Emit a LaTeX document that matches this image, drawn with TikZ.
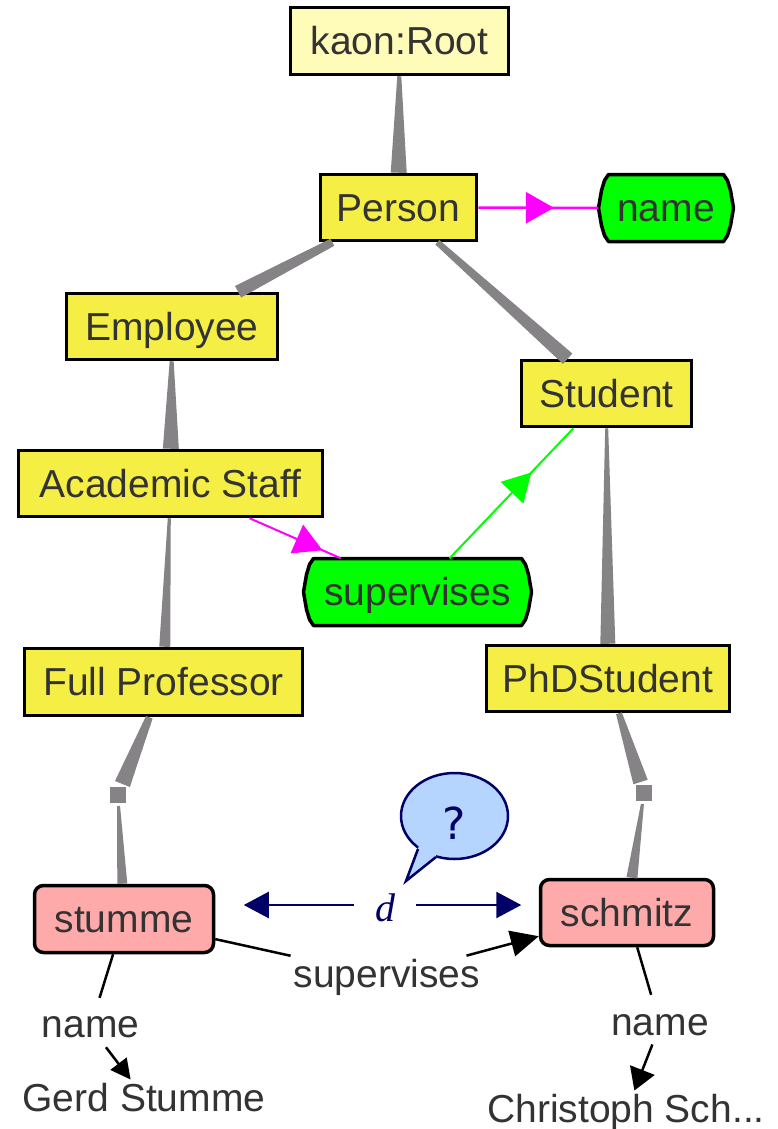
\documentclass[tikz,border=0pt]{standalone}
\usepackage{fontspec}
\newfontfamily\lab{Liberation Sans}
\newfontfamily\qfont{DejaVu Sans}
\newfontfamily\dfont{Liberation Serif}
\usetikzlibrary{shapes.geometric,arrows.meta,decorations.markings,calc}
\definecolor{rootfill}{HTML}{FFFBB8}
\definecolor{cfill}{HTML}{F5EE45}
\definecolor{pgreen}{HTML}{00FF00}
\definecolor{ipink}{HTML}{FFAAAA}
\definecolor{edgegray}{HTML}{858385}
\definecolor{mag}{HTML}{FF00FF}
\definecolor{navy}{HTML}{000066}
\definecolor{bubble}{HTML}{B5D5FF}
\definecolor{txt}{HTML}{333333}
\tikzset{
  lbl/.style={font=\lab\fontsize{39}{39}\selectfont, text=txt},
  boxtext/.style={lbl, text height=27.9pt, text depth=0pt, inner sep=0pt},
  concept/.style={boxtext, draw=black, line width=3.5pt, fill=cfill},
  inst/.style={concept, fill=ipink, rounded corners=9pt},
  propline/.style={draw=black, line width=3.5pt, fill=pgreen, line join=round},
  sqr/.style={fill=edgegray, minimum size=16pt, inner sep=0pt, outer sep=3pt},
  iline/.style={black, line width=2.5pt},
  darr/.style={navy, line width=2.5pt, -{Triangle[length=25pt,width=26pt]}},
  midarrow/.style 2 args={postaction={decorate}, decoration={markings, mark=at position #1 with {\arrow{Triangle[length=#2,width=31pt]}}}}
}
\newcommand\taper[4]{\fill[edgegray] ($(#1)!#3!90:(#2)$) -- ($(#1)!#3!-90:(#2)$) -- ($(#2)!#4!90:(#1)$) -- ($(#2)!#4!-90:(#1)$) -- cycle;}
\newcommand\proppath[4]{\draw[propline] ({#1-#3+10},{#2-#4}) -- ({#1+#3-10},{#2-#4}) -- ({#1+#3-6},{#2-#4+6}) -- ({#1+#3-3},{#2-#4+16}) -- ({#1+#3},{#2}) -- ({#1+#3-3},{#2+#4-16}) -- ({#1+#3-6},{#2+#4-6}) -- ({#1+#3-10},{#2+#4}) -- ({#1-#3+10},{#2+#4}) -- ({#1-#3+6},{#2+#4-6}) -- ({#1-#3+3},{#2+#4-16}) -- ({#1-#3},{#2}) -- ({#1-#3+3},{#2-#4+16}) -- ({#1-#3+6},{#2-#4+6}) -- cycle;}
\begin{document}
\begin{tikzpicture}[x=1pt,y=-1pt]
\fill[white] (0,0) rectangle (777,1129);
\useasboundingbox (0,0) rectangle (777,1129);

% concept nodes
\node[concept, fill=rootfill, minimum width=218pt, minimum height=67pt] (root) at (399.5,41) {kaon:Root};
\node[concept, minimum width=156pt, minimum height=66pt] (person) at (398.5,207.5) {Person};
\node[concept, minimum width=211pt, minimum height=66pt] (employee) at (172,326.5) {Employee};
\node[concept, minimum width=170pt, minimum height=66pt] (student) at (606.5,393.5) {Student};
\node[concept, minimum width=304pt, minimum height=66pt] (acad) at (170.5,483.5) {Academic Staff};
\node[concept, minimum width=278pt, minimum height=67pt] (fullprof) at (163.5,682) {Full Professor};
\node[concept, minimum width=243pt, minimum height=66pt] (phd) at (608,678.5) {PhDStudent};

% property nodes
\proppath{666}{208}{67.5}{33.5}
\node[boxtext, minimum width=135pt, minimum height=67pt] (name) at (666,208) {name};
\proppath{417.5}{592}{114}{33.5}
\node[boxtext, minimum width=228pt, minimum height=67pt] (sup) at (417.5,592) {supervises};

% instances
\node[inst, minimum width=179pt, minimum height=67pt] (stumme) at (124,919) {stumme};
\node[inst, minimum width=173pt, minimum height=66pt] (schmitz) at (627,912.5) {schmitz};
\node[sqr] (sq1) at (118,795) {};
\node[sqr] (sq2) at (644,793) {};

% taxonomy edges
\path (root) -- coordinate[pos=0] (t1a) coordinate[pos=1] (t1b) (person);
\taper{t1a}{t1b}{2pt}{8pt}
\path (person) -- coordinate[pos=0] (t2a) coordinate[pos=1] (t2b) (employee);
\taper{t2a}{t2b}{4pt}{6.5pt}
\path (person) -- coordinate[pos=0] (t3a) coordinate[pos=1] (t3b) (student);
\taper{t3a}{t3b}{3pt}{7pt}
\path (employee) -- coordinate[pos=0] (t4a) coordinate[pos=1] (t4b) (acad);
\taper{t4a}{t4b}{2pt}{8pt}
\path (acad) -- coordinate[pos=0] (t5a) coordinate[pos=1] (t5b) (fullprof);
\taper{t5a}{t5b}{1.5pt}{5.5pt}
\path (student) -- coordinate[pos=0] (t6a) coordinate[pos=1] (t6b) (phd);
\taper{t6a}{t6b}{1.5pt}{7.5pt}
\path (fullprof) -- coordinate[pos=0] (t7a) coordinate[pos=1] (t7b) (sq1);
\taper{t7a}{t7b}{3.5pt}{8pt}
\path (sq1) -- coordinate[pos=0] (t8a) coordinate[pos=1] (t8b) (stumme);
\taper{t8a}{t8b}{1.5pt}{5pt}
\path (phd) -- coordinate[pos=0] (t9a) coordinate[pos=1] (t9b) (sq2);
\taper{t9a}{t9b}{3pt}{7.5pt}
\path (sq2) -- coordinate[pos=0] (t10a) coordinate[pos=1] (t10b) (schmitz);
\taper{t10a}{t10b}{1.5pt}{5.5pt}

% property edges
\draw[mag, line width=2.5pt, midarrow={0.63}{28pt}] (person) -- (name);
\draw[mag, line width=2pt, midarrow={0.8}{28pt}] (acad) -- (sup);
\draw[pgreen, line width=2pt, midarrow={0.66}{28pt}] (sup) -- (student);

% speech bubble
\node[ellipse, draw=navy, line width=2.5pt, fill=bubble, minimum width=107pt, minimum height=86pt, inner sep=0pt] (bub) at (454.5,816) {};
\fill[bubble] (418,849) -- (406,881) -- (436,857) -- (437,844) -- (420,841) -- cycle;
\draw[navy, line width=2.5pt, line join=miter] (418,849) -- (406,881) -- (436,857);
\node[font=\qfont\fontsize{44}{44}\selectfont, text=navy, inner sep=0pt] (q) at (454,823.5) {?};

% distance d
\node[font=\dfont\itshape\fontsize{40}{40}\selectfont, text=navy, minimum width=62pt, inner sep=0pt] (d) at (385,908) {d};
\draw[darr, shorten >=28.5pt] ([yshift=3pt]d.west) -- ([yshift=3pt]d.west -| stumme.east);
\draw[darr, shorten >=17.5pt] ([yshift=3pt]d.east) -- ([yshift=3pt]d.east -| schmitz.west);

% instance-level relations
\node[lbl, inner sep=3pt] (sup2) at (387,977) {supervises};
\draw[iline] (stumme) -- (sup2);
\draw[iline, -{Triangle[length=28pt,width=26pt]}] (sup2) -- (schmitz);

\node[lbl, inner sep=3pt] (n1) at (90.5,1027) {name};
\node[lbl, inner sep=3pt, anchor=base] (gerd) at (144,1111) {Gerd Stumme};
\draw[iline, shorten >=16pt] (stumme) -- (n1);
\draw[iline, shorten <=8pt, -{Triangle[length=20pt,width=20pt]}] (n1) -- (gerd);

\node[lbl, inner sep=3pt] (n2) at (660,1025) {name};
\node[lbl, inner sep=3pt, anchor=base] (chris) at (626,1122) {Christoph Sch...};
\draw[iline, shorten >=17pt] (schmitz) -- (n2);
\draw[iline, shorten <=6pt, -{Triangle[length=22pt,width=26pt]}] (n2) -- (chris);
\end{tikzpicture}
\end{document}
